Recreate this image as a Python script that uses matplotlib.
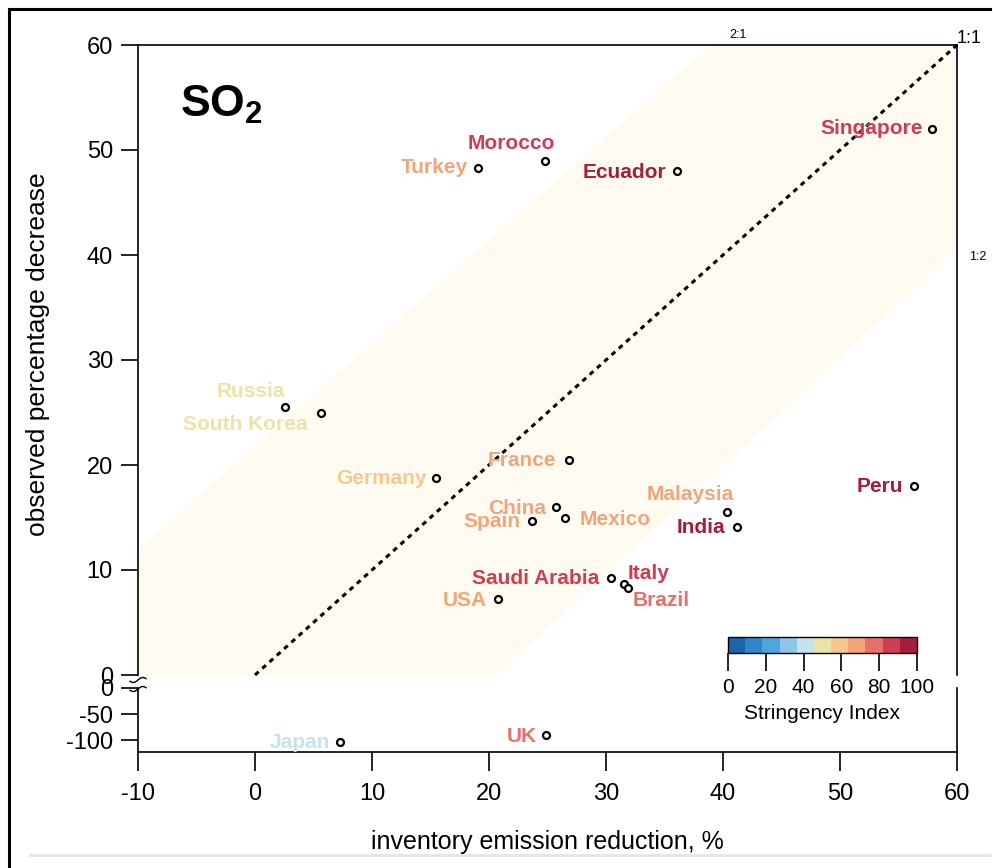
import numpy as np
import matplotlib
matplotlib.use("Agg")
import matplotlib.pyplot as plt
from matplotlib.colors import ListedColormap, Normalize
from matplotlib.lines import Line2D
from matplotlib.patches import Polygon
import matplotlib.colorbar as mcolorbar

# ---------------------------------------------------------------
# Data
# ---------------------------------------------------------------
countries = ["Singapore", "Morocco", "Turkey", "Ecuador", "Russia",
             "South Korea", "Germany", "France", "Peru", "Malaysia",
             "India", "China", "Mexico", "Spain", "Saudi Arabia",
             "Italy", "Brazil", "USA", "Japan", "UK"]
inventory_reduction = [57.9, 24.8, 19.1, 36.1, 2.6,
                       5.6, 15.5, 26.8, 56.3, 40.3,
                       41.2, 25.7, 26.5, 23.7, 30.4,
                       31.5, 31.9, 20.8, 7.3, 24.9]
observed_decrease = [52.0, 49.0, 48.3, 48.0, 25.5,
                     25.0, 18.8, 20.5, 18.0, 15.5,
                     14.1, 16.0, 15.0, 14.7, 9.2,
                     8.7, 8.3, 7.2, -103.5, -90.5]
stringency = [86, 90, 70, 96, 50,
              50, 60, 70, 96, 70,
              100, 72, 72, 70, 88,
              88, 80, 72, 42, 80]

# colour steps of the stringency scale
stringency_colors = ["#1d64aa", "#2f87c8", "#4ea6dc", "#8ec5e6", "#c6e2ee",
                     "#ede3a6", "#f6c88e", "#f2a57a", "#e6716a", "#d03c50",
                     "#a61d3b"]
cbar_ticks = [0, 20, 40, 60, 80, 100]

# faint agreement band between the 2:1 and 1:2 marks
band_x = [-10, 38.9, 60, 60, 20.7, -10]
band_y = [12.0, 60, 60, 40.5, 0, 0]

# label offsets (pixels): dx, dy, ha
label_offsets = {
    "Singapore": (-10, 0, "right"), "Morocco": (-34, 17, "center"),
    "Turkey": (-11, 0, "right"), "Ecuador": (-11, -1, "right"),
    "Russia": (0, 16, "right"), "South Korea": (-13, -12, "right"),
    "Germany": (-10, -1, "right"), "France": (-12, -1, "right"),
    "Peru": (-11, 0, "right"), "Malaysia": (7, 18, "right"),
    "India": (-12, -1, "right"), "China": (-10, -1, "right"),
    "Mexico": (15, -2, "left"), "Spain": (-12, -1, "right"),
    "Saudi Arabia": (-11, 0, "right"), "Italy": (4, 10, "left"),
    "Brazil": (4, -13, "left"), "USA": (-11, -1, "right"),
    "Japan": (-10, -1, "right"), "UK": (-10, -1, "right"),
}

# ---------------------------------------------------------------
# Style
# ---------------------------------------------------------------
plt.rcParams['font.family'] = ['Liberation Sans', 'DejaVu Sans']
plt.rcParams['mathtext.fontset'] = 'custom'
plt.rcParams['mathtext.rm'] = 'Liberation Sans'
plt.rcParams['mathtext.bf'] = 'Liberation Sans:bold'
plt.rcParams['axes.unicode_minus'] = False

cmap = ListedColormap(stringency_colors)
norm = Normalize(0, 100)

W, H = 993, 868
fig = plt.figure(figsize=(W / 100, H / 100), dpi=100)


def fx(px):
    return px / W


def fy(py):
    return 1 - py / H


ax_top = fig.add_axes([fx(138), fy(675), fx(957) - fx(138), fy(45) - fy(675)])
ax_bot = fig.add_axes([fx(138), fy(752), fx(957) - fx(138), fy(688) - fy(752)])

for ax in (ax_top, ax_bot):
    ax.set_xlim(-10, 60)
    ax.set_facecolor("none")
    for s in ax.spines.values():
        s.set_linewidth(1.2)
    ax.tick_params(axis="both", direction="out", length=12, width=1.2,
                   labelsize=17, pad=6)

ax_top.set_ylim(0, 60)
ax_top.set_yticks([0, 10, 20, 30, 40, 50, 60])
ax_top.spines["bottom"].set_visible(False)
ax_top.tick_params(axis="x", bottom=False, labelbottom=False)

ax_bot.set_ylim(-123, 0)
ax_bot.set_yticks([-100, -50, 0])
ax_bot.spines["top"].set_visible(False)
ax_bot.set_xticks([-10, 0, 10, 20, 30, 40, 50, 60])
ax_bot.tick_params(axis="x", length=14, pad=8)

# band + 1:1 line
ax_top.add_patch(Polygon(np.column_stack([band_x, band_y]), closed=True,
                         facecolor="#fffbf1", edgecolor="none", zorder=0))
ax_top.plot([0, 60], [0, 60], color="black", linestyle=(0, (1.6, 1.6)),
            linewidth=2.2, zorder=1, clip_on=False)

ax_top.text(41.3, 60.4, "2:1", fontsize=9, ha="center", va="bottom", clip_on=False)
ax_top.text(60.0, 59.8, "1:1", fontsize=13, ha="left", va="bottom", clip_on=False)
ax_top.text(61.0, 39.8, "1:2", fontsize=9, ha="left", va="center", clip_on=False)

ax_top.text(0.051, 0.905, r"$\mathbf{SO_2}$", transform=ax_top.transAxes,
            fontsize=32, ha="left", va="center")

# points + labels
for name, x, y, s in zip(countries, inventory_reduction, observed_decrease, stringency):
    ax = ax_top if y >= 0 else ax_bot
    ax.plot(x, y, marker="o", markersize=5, markerfacecolor="white",
            markeredgecolor="black", markeredgewidth=1.6, linestyle="none", zorder=4)
    dx, dy, ha = label_offsets[name]
    ax.annotate(name, (x, y), xytext=(dx, dy), textcoords="offset pixels",
                ha=ha, va="center", fontsize=15, fontweight="bold",
                color=cmap(norm(s)), zorder=3)

ax_top.set_ylabel("observed percentage decrease", fontsize=19)
ax_top.yaxis.set_label_coords(-0.108, 0.51)
ax_bot.set_xlabel("inventory emission reduction, %", fontsize=18, labelpad=18)

# axis break marks on the left spine
t = np.linspace(-1, 1, 30)
for py in (680, 689):
    fig.add_artist(Line2D(fx(138 + 8 * t), fy(py - 2.5 * np.sin(np.pi * t / 1.2)),
                          color="black", linewidth=1.0))

# colour bar
cax = fig.add_axes([fx(728), fy(653), fx(917) - fx(728), fy(637) - fy(653)])
cb = mcolorbar.ColorbarBase(cax, cmap=cmap, norm=norm, orientation="horizontal",
                            ticks=cbar_ticks)
cb.outline.set_linewidth(1.0)
cax.tick_params(length=13, width=1.2, labelsize=15, pad=5)
cb.set_label("Stringency Index", fontsize=15, labelpad=5)

# outer frame
fig.add_artist(Line2D([fx(9), fx(990)], [fy(9), fy(9)], color="black", linewidth=2.2))
fig.add_artist(Line2D([fx(9), fx(9)], [fy(9), fy(868)], color="black", linewidth=2.2))
fig.add_artist(Line2D([fx(30), fx(990)], [fy(855), fy(855)], color="#e6e6e6", linewidth=2))

fig.savefig("out.png", dpi=100)
